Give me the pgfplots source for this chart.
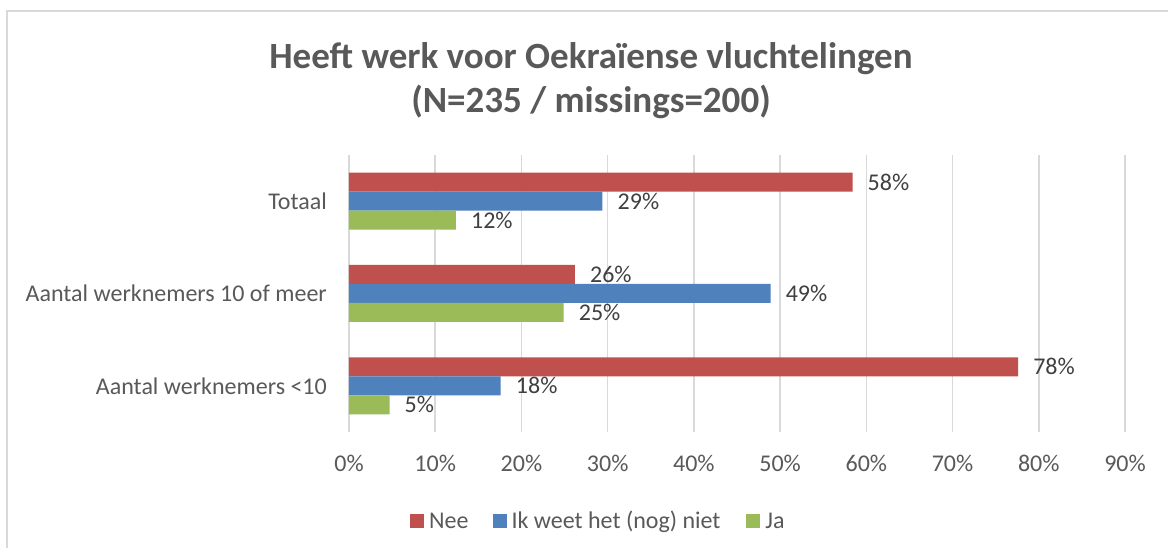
\documentclass[border=0pt]{standalone}
\usepackage{fontspec}
\setmainfont{Carlito}
\usepackage{pgfplots}
\pgfplotsset{compat=1.18}
\definecolor{cNee}{HTML}{C0504D}
\definecolor{cIk}{HTML}{4F81BD}
\definecolor{cJa}{HTML}{9BBB59}
\definecolor{txt}{HTML}{595959}
\definecolor{lbl}{HTML}{404040}
\definecolor{gridc}{HTML}{D9D9D9}
\begin{document}
\begin{tikzpicture}[x=1pt,y=1pt]
\useasboundingbox (0,0) rectangle (1168,548);
\fill[white] (0,0) rectangle (1168,548);
\draw[gridc, line width=1.5pt] (7,-10) -- (7,537) -- (1180,537);
\node[font=\fontsize{37}{44}\selectfont\bfseries, text=txt, anchor=base, inner sep=0pt] at (591,479) {Heeft werk voor Oekraïense vluchtelingen};
\node[font=\fontsize{37}{44}\selectfont\bfseries, text=txt, anchor=base, inner sep=0pt] at (591,435) {(N=235 / missings=200)};
\begin{axis}[
  at={(349pt,116pt)}, anchor=south west,
  scale only axis, width=776pt, height=277pt,
  xbar, bar width=19pt,
  xmin=0, xmax=90, ymin=-0.5, ymax=2.5,
  enlargelimits=false, clip=false,
  xtick={0,10,...,90},
  xticklabel={\pgfmathprintnumber{\tick}\%},
  /pgf/number format/assume math mode=true,
  ytick={0,1,2},
  yticklabels={Aantal werknemers <10, Aantal werknemers 10 of meer, Totaal},
  xmajorgrids, major grid style={gridc, line width=1.5pt},
  axis line style={draw=none},
  major tick length=0pt,
  tick label style={font=\fontsize{24}{28}\selectfont, text=txt, inner sep=0pt},
  xticklabel style={anchor=base, yshift=-39.5pt},
  yticklabel style={anchor=east, xshift=-22pt},
  nodes near coords={\pgfmathprintnumber[precision=0]{\pgfplotspointmeta}\%},
  every node near coord/.append style={font=\fontsize{24}{28}\selectfont, text=lbl, anchor=west, inner sep=0pt, xshift=15pt},
  legend columns=3,
  legend style={at={(0.0747,-0.318)}, anchor=west, draw=none, fill=none,
    font=\fontsize{24}{28}\selectfont, text=txt,
    nodes={inner sep=0pt, anchor=base west},
    /tikz/every odd column/.append style={column sep=5pt},
    /tikz/column 2/.style={column sep=24pt},
    /tikz/column 4/.style={column sep=26pt}},
  legend image code/.code={\fill[#1,draw=none] (0pt,0pt) rectangle (14pt,14pt);},
]
\addplot[fill=cNee, draw=none, bar shift=19pt] coordinates {(77.6,0) (26.2,1) (58.4,2)};
\addplot[fill=cIk, draw=none, bar shift=0pt] coordinates {(17.6,0) (48.9,1) (29.4,2)};
\addplot[fill=cJa, draw=none, bar shift=-19pt] coordinates {(4.7,0) (24.9,1) (12.4,2)};
\legend{Nee, Ik weet het (nog) niet, Ja}
\end{axis}
\end{tikzpicture}
\end{document}
